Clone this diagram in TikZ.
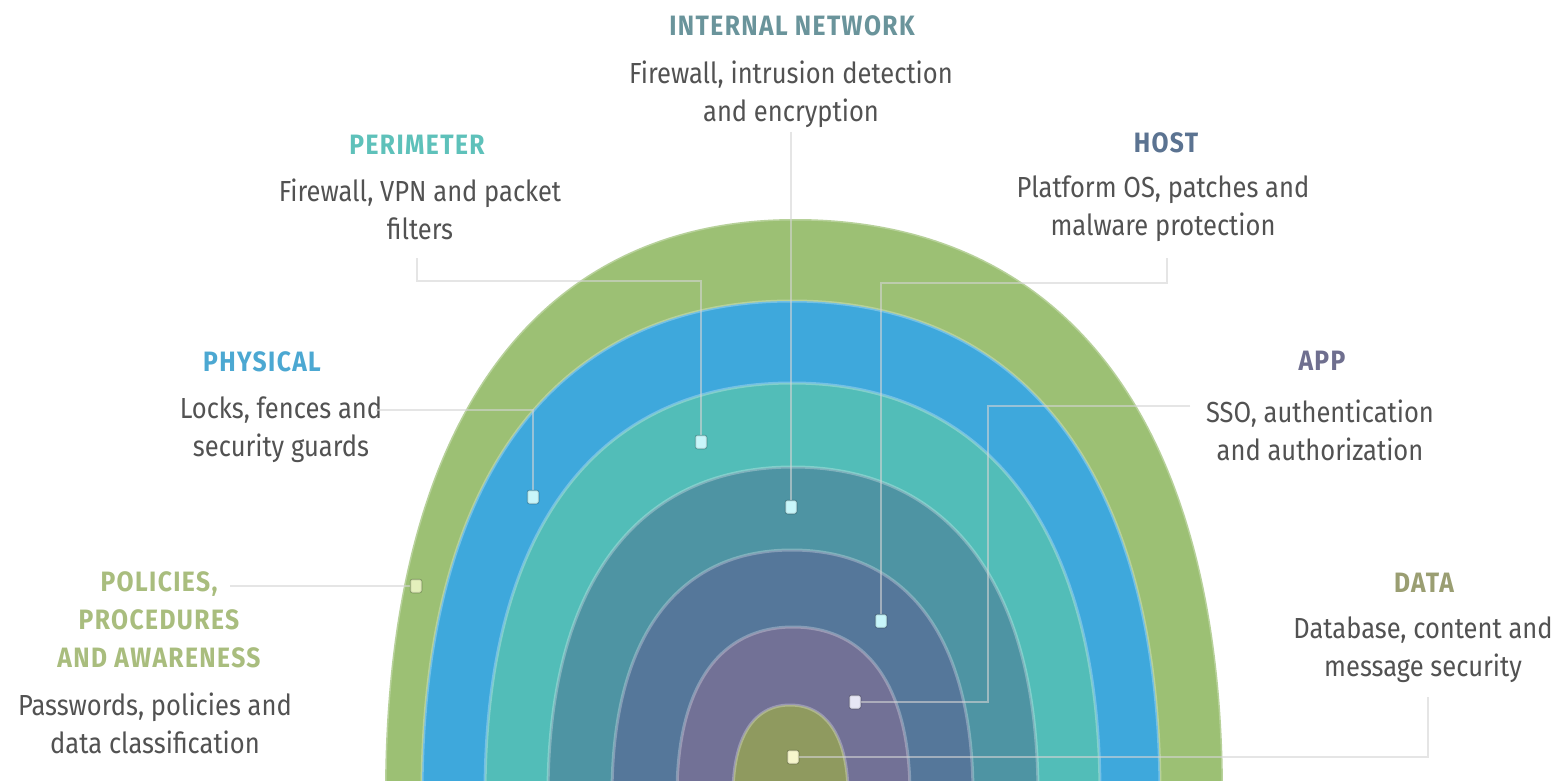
\documentclass[tikz,border=0pt]{standalone}
\usepackage{fontspec}
\setmainfont{Fira Sans}[FakeStretch=0.88]
\definecolor{lgreen}{HTML}{9CC074}
\definecolor{lblue}{HTML}{3EA8DC}
\definecolor{lteal}{HTML}{52BDB8}
\definecolor{ldteal}{HTML}{4E94A3}
\definecolor{lslate}{HTML}{55779A}
\definecolor{lpurple}{HTML}{727196}
\definecolor{lolive}{HTML}{8F9A5F}
\definecolor{cInt}{HTML}{6A949B}
\definecolor{cPer}{HTML}{5EC1BA}
\definecolor{cHost}{HTML}{5B7391}
\definecolor{cPhy}{HTML}{4CA8D2}
\definecolor{cApp}{HTML}{6F6F8F}
\definecolor{cPol}{HTML}{A9BD7E}
\definecolor{cData}{HTML}{9A9E72}
\definecolor{textgray}{HTML}{525252}
\definecolor{linegray}{HTML}{D4D4D4}
\definecolor{dotcyan}{HTML}{C8F6FA}
\definecolor{dotlav}{HTML}{E6E6F5}
\definecolor{dotyel}{HTML}{F6F6CC}
\definecolor{dotgrn}{HTML}{E4F0BC}
\newcommand\domelayer[5]{%
  \path[fill=#1, draw=white, draw opacity=0.28, line width=3pt]
    (#2,795) .. controls (#2,{795-0.64*(795-#5)}) and ({#3-0.64*(#3-#2)},#5) .. (#3,#5)
    .. controls ({#3+0.64*(#4-#3)},#5) and (#4,{795-0.64*(795-#5)}) .. (#4,795) -- cycle;}
\tikzset{
  head/.style={font=\bfseries\fontsize{28}{38}\selectfont\addfontfeature{LetterSpace=5}, align=center, inner sep=0pt},
  body/.style={font=\fontsize{29}{38}\selectfont, text=textgray, align=center, inner sep=0pt},
  conn/.style={draw=linegray, draw opacity=0.6, line width=2.5pt},
  dotsq/.style={rectangle, minimum width=11pt, minimum height=13pt, inner sep=0pt,
    rounded corners=2pt, fill=#1, draw=black, draw opacity=0.12, line width=1.5pt}
}
\begin{document}
\begin{tikzpicture}[x=1pt,y=-1pt]
\useasboundingbox (0,0) rectangle (1568,781);
\fill[white] (0,0) rectangle (1568,781);
\begin{scope}
\clip (0,0) rectangle (1568,781);
\domelayer{lgreen}{385}{795}{1223}{219}
\domelayer{lblue}{422}{792}{1160}{301}
\domelayer{lteal}{485}{792}{1100}{383}
\domelayer{ldteal}{548}{793}{1038}{467}
\domelayer{lslate}{612}{792}{973}{550}
\domelayer{lpurple}{677}{793}{910}{627}
\domelayer{lolive}{733}{790}{848}{705}
\end{scope}

% dots (positions)
\node[dotsq=dotgrn] (polDot) at (416,586) {};
\node[dotsq=dotcyan] (phyDot) at (533,497) {};
\node[dotsq=dotcyan] (perDot) at (701,442) {};
\node[dotsq=dotcyan] (intDot) at (791,507) {};
\node[dotsq=dotcyan] (hostDot) at (881,621) {};
\node[dotsq=dotlav] (appDot) at (855,702) {};
\node[dotsq=dotyel] (dataDot) at (793,757) {};

% texts
\node[head, text=cInt] (intH) at (792,26) {INTERNAL NETWORK};
\node[body] (intB) at (791,94) {Firewall, intrusion detection\\and encryption};
\node[head, text=cPer] (perH) at (417,145) {PERIMETER};
\node[body] (perB) at (420,209) {Firewall, VPN and packet\\filters};
\node[head, text=cHost] (hostH) at (1166,143) {HOST};
\node[body] (hostB) at (1163,209) {Platform OS, patches and\\malware protection};
\node[head, text=cPhy] (phyH) at (262,362) {PHYSICAL};
\node[body] (phyB) at (281,430) {Locks, fences and\\security guards};
\node[head, text=cApp] (appH) at (1322,361) {APP};
\node[body] (appB) at (1320,430) {SSO, authentication\\and authorization};
\node[head, text=cPol] (polH) at (159,620) {POLICIES,\\PROCEDURES\\AND AWARENESS};
\node[body] (polB) at (155,723) {Passwords, policies and\\data classification};
\node[head, text=cData] (dataH) at (1424,583) {DATA};
\node[body] (dataB) at (1423,650) {Database, content and\\message security};

% connector free ends
\coordinate (intA) at (791,132);
\coordinate (perA) at (417,258);
\coordinate (hostA) at (1167,258);
\coordinate (phyA) at (376,410);
\coordinate (appA) at (1190,406);
\coordinate (polA) at (230,586);
\coordinate (dataA) at (1428,697);

\draw[conn] (intA) -- (intDot);
\draw[conn] (perA) -- ++(0,23) -| (perDot);
\draw[conn] (hostA) -- ++(0,25) -| (hostDot);
\draw[conn] (phyA) -| (phyDot);
\draw[conn] (appA) -- ++(-202,0) |- (appDot);
\draw[conn] (polA) -- (polDot);
\draw[conn] (dataA) |- (dataDot);

% redraw dots on top
\node[dotsq=dotgrn] at (polDot) {};
\node[dotsq=dotcyan] at (phyDot) {};
\node[dotsq=dotcyan] at (perDot) {};
\node[dotsq=dotcyan] at (intDot) {};
\node[dotsq=dotcyan] at (hostDot) {};
\node[dotsq=dotlav] at (appDot) {};
\node[dotsq=dotyel] at (dataDot) {};
\end{tikzpicture}
\end{document}
